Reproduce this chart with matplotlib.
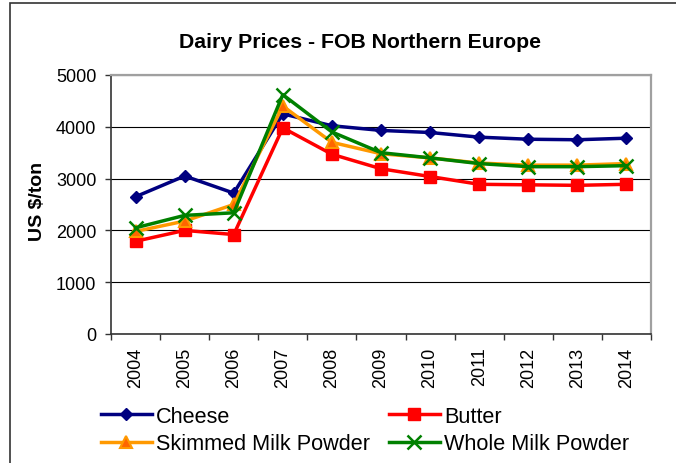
import numpy as np
import matplotlib
matplotlib.use("Agg")
import matplotlib.pyplot as plt
from matplotlib.patches import Rectangle

plt.rcParams['font.family'] = ['Liberation Sans', 'DejaVu Sans']

years = ["2004", "2005", "2006", "2007", "2008", "2009",
         "2010", "2011", "2012", "2013", "2014"]
cheese = [2650, 3050, 2720, 4250, 4020, 3930, 3890, 3800, 3760, 3750, 3780]
butter = [1790, 2000, 1920, 3980, 3470, 3190, 3040, 2890, 2880, 2870, 2890]
smp = [1980, 2180, 2500, 4400, 3700, 3480, 3400, 3300, 3260, 3260, 3290]
wmp = [2050, 2290, 2340, 4620, 3900, 3500, 3400, 3290, 3230, 3230, 3250]

W, H = 676, 464
fig = plt.figure(figsize=(W / 100, H / 100), dpi=100)
ax = fig.add_axes([111 / W, 1 - 335 / H, 540 / W, 259 / H])

x = np.arange(len(years))
lw = 2.5
l1, = ax.plot(x, cheese, color='#000080', lw=lw, marker='D', ms=6,
              mfc='#000080', mec='#000080', label='Cheese', zorder=3)
l2, = ax.plot(x, butter, color='#FF0000', lw=lw, marker='s', ms=9,
              mfc='#FF0000', mec='#FF0000', label='Butter', zorder=4)
l3, = ax.plot(x, smp, color='#FF9900', lw=lw, marker='^', ms=9,
              mfc='#FF6600', mec='#FF9900', mew=1.5,
              label='Skimmed Milk Powder', zorder=5)
l4, = ax.plot(x, wmp, color='#008000', lw=lw, marker='x', ms=10,
              mec='#008000', mew=1.8, label='Whole Milk Powder', zorder=6)

ax.set_xlim(-0.5, len(years) - 0.5)
ax.set_ylim(0, 5000)
ax.set_yticks(np.arange(0, 5001, 1000))
ax.yaxis.grid(True, color='black', lw=0.8)
ax.set_axisbelow(True)

ax.set_xticks(x)
ax.set_xticklabels(years, rotation=90, fontsize=13)
ax.set_xticks(np.arange(-0.5, len(years)), minor=True)
ax.tick_params(axis='x', which='major', length=0, pad=9)
ax.tick_params(axis='x', which='minor', length=4.5, width=1, color='#333333')
ax.tick_params(axis='y', length=4.5, width=1, color='#333333', pad=6,
               labelsize=13)

for s in ['left', 'bottom']:
    ax.spines[s].set_color('#333333')
    ax.spines[s].set_linewidth(1.2)
for s in ['top', 'right']:
    ax.spines[s].set_color('#A0A0A0')
    ax.spines[s].set_linewidth(1.6)

fig.text(360 / W, 1 - 43 / H, "Dairy Prices - FOB Northern Europe",
         fontsize=15.3, fontweight='bold', ha='center', va='center')
fig.text(37 / W, 1 - 201 / H, "US $/ton", fontsize=14, fontweight='bold',
         rotation=90, ha='center', va='center')

# row-major order like the original: Cheese, Butter / SMP, WMP
fig.legend(handles=[l1, l3, l2, l4], ncol=2, frameon=False,
           loc='center left', bbox_to_anchor=(101 / W, 1 - 431 / H),
           fontsize=15.6, handlelength=2.35, handletextpad=0.2,
           columnspacing=0.85, labelspacing=0.32, borderpad=0,
           borderaxespad=0)

fig.add_artist(Rectangle((10 / W, -0.1), 1.2, 1 - 4 / H + 0.1,
                         transform=fig.transFigure, fill=False,
                         ec='#333333', lw=1.2))

fig.savefig("out.png", dpi=100)
